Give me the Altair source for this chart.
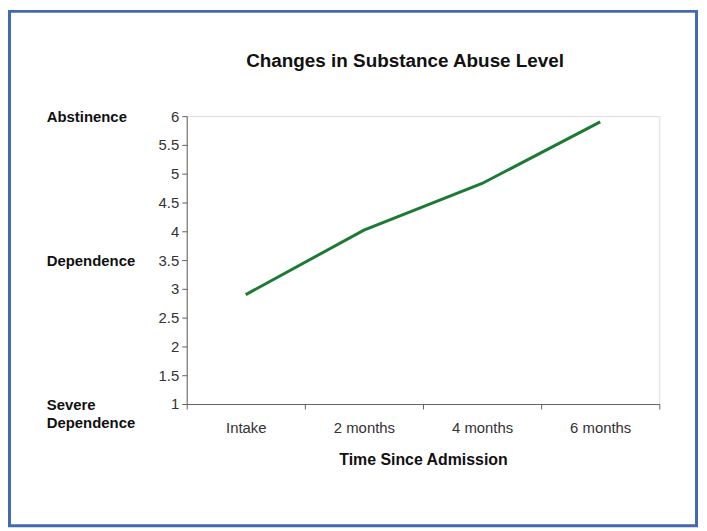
import altair as alt
import pandas as pd

# ---- data ----
categories = ["Intake", "2 months", "4 months", "6 months"]
levels = [2.90, 4.02, 4.83, 5.90]

side_labels = ["Abstinence", "Dependence", "Severe\nDependence"]
side_values = [6, 3.5, 1]

y_ticks = [1, 1.5, 2, 2.5, 3, 3.5, 4, 4.5, 5, 5.5, 6]

chart_title = "Changes in Substance Abuse Level"

df = pd.DataFrame({"time": categories, "level": levels})
side_df = pd.DataFrame({"level": side_values, "label": side_labels})

FONT = "Liberation Sans"

x_enc = alt.X(
    "time:N",
    sort=categories,
    bandPosition=0.5,
    scale=alt.Scale(type="band", paddingInner=0, paddingOuter=0),
    axis=alt.Axis(
        title="Time Since Admission",
        labelAngle=0,
        tickBand="extent",
        tickSize=5,
        labelPadding=12,
        titlePadding=16,
        labelFontSize=15,
        titleFontSize=16,
        titleFontWeight="bold",
        labelColor="#333333",
        titleColor="#111111",
        domainColor="#6a6060",
        tickColor="#6a6060",
        grid=False,
    ),
)

y_scale = alt.Scale(domain=[1, 6], nice=False, zero=False)
y_axis = alt.Axis(
    title=None,
    values=y_ticks,
    format="~g",
    tickSize=5,
    labelPadding=3,
    labelFontSize=15,
    labelColor="#333333",
    domainColor="#6a6060",
    tickColor="#6a6060",
    labelOverlap=False,
    grid=False,
)

line = alt.Chart(df).mark_line(color="#1d7a33", strokeWidth=3).encode(
    x=x_enc, y=alt.Y("level:Q", scale=y_scale, axis=y_axis)
)

side = alt.Chart(side_df).mark_text(
    align="left",
    baseline="middle",
    fontWeight="bold",
    fontSize=15,
    font=FONT,
    color="#111111",
    lineBreak="\n",
    lineHeight=18,
    dy=1,
).encode(
    x=alt.value(-141),
    y=alt.Y("level:Q", scale=y_scale, axis=y_axis),
    text="label:N",
)

title_mark = alt.Chart(alt.Data(values=[{"t": chart_title}])).mark_text(
    align="center",
    baseline="middle",
    fontWeight="bold",
    fontSize=19,
    font=FONT,
    color="#111111",
).encode(
    x=alt.value(220),
    y=alt.value(-55),
    text="t:N",
)

frame = alt.Chart(alt.Data(values=[{"k": 1}])).mark_rect(
    fill=None, fillOpacity=0, stroke="#4369b0", strokeWidth=3
).encode(
    x=alt.value(-178.5),
    x2=alt.value(513.5),
    y=alt.value(-105.5),
    y2=alt.value(412.5),
)

chart = (
    alt.layer(line, side, title_mark, frame)
    .properties(
        width=476,
        height=290,
        padding={"left": 180, "top": 107, "right": 40, "bottom": 125},
        autosize=alt.AutoSizeParams(type="none"),
    )
    .configure_view(stroke="#a89c9c", strokeWidth=1.5)
    .configure_axis(labelFont=FONT, titleFont=FONT)
    .configure(background="white")
)

chart.save("out.html", embed_options={"renderer": "svg", "actions": False})
